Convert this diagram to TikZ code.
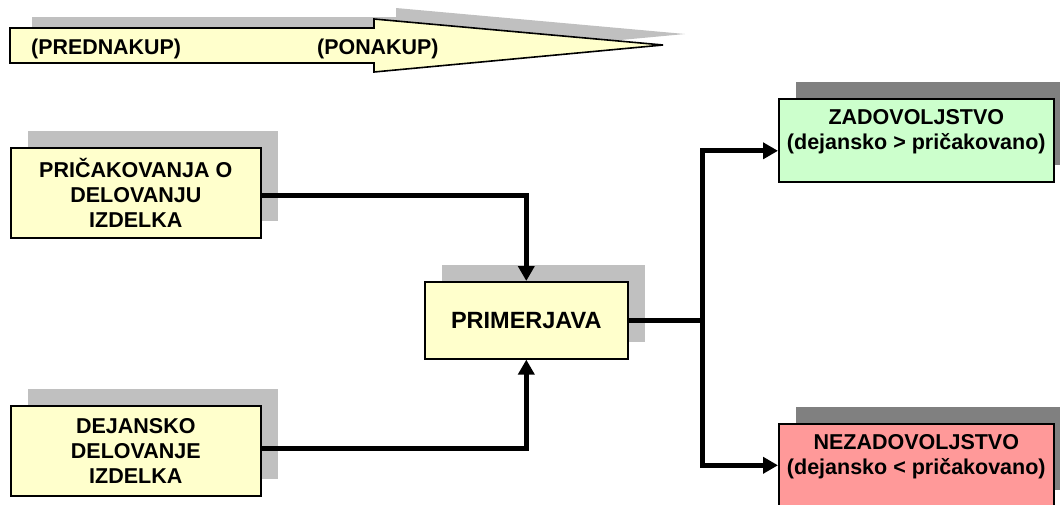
\documentclass[tikz,border=0pt]{standalone}
\usepackage{fontspec}
\setmainfont{Liberation Sans}
\usetikzlibrary{arrows.meta,shadows}
\definecolor{boxyellow}{HTML}{FFFFCC}
\definecolor{boxgreen}{HTML}{CCFFCC}
\definecolor{boxred}{HTML}{FF9999}
\definecolor{shadelight}{HTML}{C0C0C0}
\definecolor{shadedark}{HTML}{808080}
\tikzset{
  box/.style={draw=black, line width=1.6pt, rectangle, inner sep=0pt, align=center,
    font=\bfseries\fontsize{21.5}{25}\selectfont, anchor=north west},
  lshadow/.style={drop shadow={shadow xshift=17pt, shadow yshift=17pt, fill=shadelight, opacity=1}},
  dshadow/.style={drop shadow={shadow xshift=17pt, shadow yshift=17pt, fill=shadedark, opacity=1}},
  wire/.style={line width=5pt},
  conn/.style={line width=5pt, -{Triangle[length=15pt,width=16pt]}},
  arrowtext/.style={inner sep=0pt, anchor=base west, font=\bfseries\fontsize{21.4}{25}\selectfont},
}
\begin{document}
\begin{tikzpicture}[x=1pt,y=-1pt]
\useasboundingbox (0,0) rectangle (1060,504);
\clip (0,0) rectangle (1060,504);
% big timeline arrow
\fill[shadelight, shift={(22,-11)}] (10,28) -- (374,28) -- (374,19) -- (663,45) -- (374,72) -- (374,63) -- (10,63) -- cycle;
\draw[line width=1.6pt, fill=boxyellow] (10,28) -- (374,28) -- (374,19) -- (663,45) -- (374,72) -- (374,63) -- (10,63) -- cycle;
\node[arrowtext] (pred) at (31,54) {(PREDNAKUP)};
\node[arrowtext] (pona) at (317,54) {(PONAKUP)};
% boxes
\node[box, lshadow, fill=boxyellow, minimum width=250pt, minimum height=90pt] (exp) at (10,147) {PRIČAKOVANJA O\\DELOVANJU\\IZDELKA};
\node[box, lshadow, fill=boxyellow, minimum width=250pt, minimum height=90pt] (act) at (10,405) {DEJANSKO\\DELOVANJE\\IZDELKA};
\node[box, lshadow, fill=boxyellow, minimum width=203pt, minimum height=77pt,
      font=\bfseries\fontsize{23.5}{27}\selectfont] (prim) at (424,281) {PRIMERJAVA};
\node[box, dshadow, fill=boxgreen, minimum width=275pt, minimum height=83pt] (zad) at (778,98) {ZADOVOLJSTVO\\(dejansko > pričakovano)\\[-2.5pt]\mbox{}};
\node[box, dshadow, fill=boxred, minimum width=275pt, minimum height=83pt] (nez) at (778,423) {NEZADOVOLJSTVO\\(dejansko < pričakovano)\\[-2.5pt]\mbox{}};
% connectors
\draw[conn] ([yshift=-3pt]exp.east) -| (prim.north);
\draw[conn] ([yshift=2pt]act.east) -| (prim.south);
\coordinate (split) at (prim.east -| 702,0);
\draw[wire] (prim.east) -- (split);
\draw[conn] (split) |- ([yshift=-10.5pt]zad.west);
\draw[conn] (split) |- (nez.west);
\end{tikzpicture}
\end{document}
